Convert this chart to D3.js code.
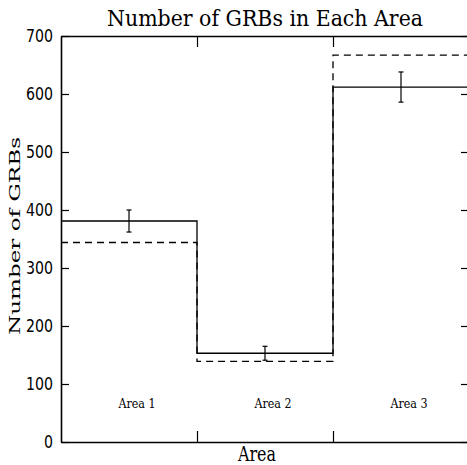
<!DOCTYPE html>
<html>
<head>
<meta charset="utf-8">
<script src="https://cdn.jsdelivr.net/npm/d3@7"></script>
<style>
  body { margin: 0; background: #fff; }
  svg { display: block; }
</style>
</head>
<body>
<svg id="chart" width="467" height="465"></svg>
<script>
const areas = ["Area 1", "Area 2", "Area 3"];
const observed = [381, 153, 612];   // solid histogram
const expected = [344, 139, 667];   // dashed histogram
const errors = [19, 12, 26];        // error bar half-lengths
const yTicks = [0, 100, 200, 300, 400, 500, 600, 700];

const svg = d3.select("#chart");
const plotLeft = 61, plotRight = 469, plotTop = 36, plotBottom = 442;

const x = d3.scaleLinear().domain([0, 3]).range([plotLeft, plotRight]);
const y = d3.scaleLinear().domain([0, 700]).range([plotBottom, plotTop]);

// step line through the bins
const step = d3.line()
  .x(d => x(d[0]))
  .y(d => y(d[1]))
  .curve(d3.curveStepAfter);

function binPoints(vals) {
  const pts = vals.map((v, i) => [i, v]);
  pts.push([vals.length, vals[vals.length - 1]]);
  return pts;
}

svg.append("path")
  .attr("d", step(binPoints(expected)))
  .attr("fill", "none")
  .attr("stroke", "#000")
  .attr("stroke-width", 1.3)
  .attr("stroke-dasharray", "7,5");

svg.append("path")
  .attr("d", step(binPoints(observed)))
  .attr("fill", "none")
  .attr("stroke", "#000")
  .attr("stroke-width", 1.3);

// error bars at bin centres
const eb = svg.append("g").attr("stroke", "#000").attr("stroke-width", 1.2);
observed.forEach((v, i) => {
  const cx = x(i + 0.5);
  eb.append("line").attr("x1", cx).attr("x2", cx)
    .attr("y1", y(v + errors[i])).attr("y2", y(v - errors[i]));
  [v + errors[i], v - errors[i]].forEach(e => {
    eb.append("line").attr("x1", cx - 2.5).attr("x2", cx + 2.5)
      .attr("y1", y(e)).attr("y2", y(e));
  });
});

// axes (box with inward ticks)
const axisStyle = g => {
  g.selectAll(".domain").attr("stroke-width", 1.6);
  g.selectAll(".tick line").attr("stroke-width", 1.2);
};

svg.append("g")
  .attr("transform", `translate(${plotLeft},0)`)
  .call(d3.axisLeft(y).tickValues(yTicks).tickSizeInner(-8).tickSizeOuter(0).tickPadding(8))
  .call(axisStyle)
  .call(g => g.selectAll("text")
    .attr("font-family", "'DejaVu Sans', sans-serif")
    .attr("font-size", 17)
    .attr("textLength", d => String(d).length * 9)
    .attr("lengthAdjust", "spacingAndGlyphs")
    .attr("fill", "#000"));

svg.append("g")
  .attr("transform", `translate(${plotRight},0)`)
  .call(d3.axisRight(y).tickValues(yTicks).tickSizeInner(-8).tickSizeOuter(0).tickFormat(""))
  .call(axisStyle);

svg.append("g")
  .attr("transform", `translate(0,${plotBottom})`)
  .call(d3.axisBottom(x).tickValues([1, 2]).tickSizeInner(-11).tickSizeOuter(0).tickFormat(""))
  .call(axisStyle);

svg.append("g")
  .attr("transform", `translate(0,${plotTop})`)
  .call(d3.axisTop(x).tickValues([1, 2]).tickSizeInner(-11).tickSizeOuter(0).tickFormat(""))
  .call(axisStyle);

// bin labels
svg.append("g").selectAll("text")
  .data(areas)
  .join("text")
  .attr("x", (d, i) => x(i + 0.5) + 8)
  .attr("y", 408)
  .attr("text-anchor", "middle")
  .attr("font-family", "'DejaVu Serif', serif")
  .attr("font-size", 12)
  .attr("textLength", 37)
  .attr("lengthAdjust", "spacingAndGlyphs")
  .text(d => d);

// titles
svg.append("text")
  .attr("x", 265).attr("y", 26)
  .attr("text-anchor", "middle")
  .attr("font-family", "'DejaVu Serif', serif")
  .attr("font-size", 22)
  .attr("textLength", 316)
  .attr("lengthAdjust", "spacingAndGlyphs")
  .text("Number of GRBs in Each Area");

svg.append("text")
  .attr("x", 257).attr("y", 461)
  .attr("text-anchor", "middle")
  .attr("font-family", "'DejaVu Serif', serif")
  .attr("font-size", 21)
  .attr("textLength", 38)
  .attr("lengthAdjust", "spacingAndGlyphs")
  .text("Area");

svg.append("text")
  .attr("transform", "translate(20,236) rotate(-90)")
  .attr("text-anchor", "middle")
  .attr("font-family", "'DejaVu Serif', serif")
  .attr("font-size", 14)
  .attr("textLength", 198)
  .attr("lengthAdjust", "spacingAndGlyphs")
  .text("Number of GRBs");
</script>
</body>
</html>
